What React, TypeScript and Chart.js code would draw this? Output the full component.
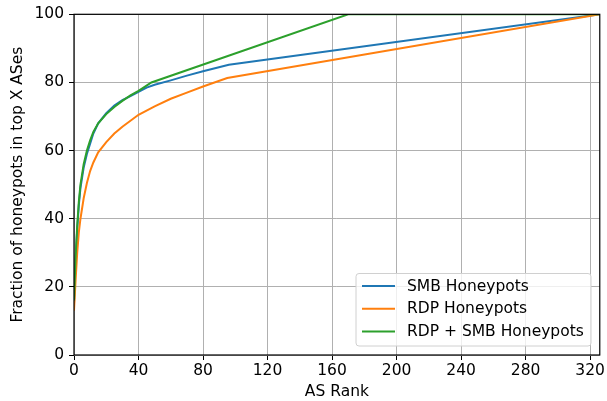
import React, { useEffect, useRef } from "react";
import { Chart, registerables } from "chart.js";

Chart.register(...registerables);

const smbX = [0, 1, 2, 3, 4, 6, 8, 10, 12, 15, 20, 25, 30, 35, 40, 45, 50, 60, 70, 80, 96, 326];
const smbY = [15, 28, 37, 44, 49, 55, 59, 62, 65, 68, 71, 73.2, 74.8, 76, 77.2, 78.5, 79.3, 80.6, 82, 83.3, 85.2, 100];

const rdpX = [0, 1, 2, 3, 4, 6, 8, 10, 12, 15, 20, 25, 30, 40, 50, 60, 70, 80, 95, 326];
const rdpY = [13, 22, 30, 36, 40, 46, 50.5, 54, 56.5, 59.5, 62.5, 65, 67, 70.5, 73, 75.2, 77, 78.8, 81.3, 100];

const bothX = [0, 1, 2, 3, 4, 6, 8, 10, 12, 15, 20, 25, 30, 35, 40, 48, 170, 326];
const bothY = [16, 29, 38, 45, 50, 56, 60, 63, 65.5, 68, 70.7, 72.8, 74.6, 76.2, 77.5, 80, 100, 100];

const seriesLabels = ["SMB Honeypots", "RDP Honeypots", "RDP + SMB Honeypots"];
const seriesColors = ["#1f77b4", "#ff7f0e", "#2ca02c"];
const xTicks = [0, 40, 80, 120, 160, 200, 240, 280, 320];
const yTicks = [0, 20, 40, 60, 80, 100];

const FONT = "'DejaVu Sans', sans-serif";
const FS = 15.5;

const toPts = (xs: number[], ys: number[]) => xs.map((x, i) => ({ x, y: ys[i] }));

const framePlugin = {
  id: "frame",
  afterDraw(chart: any) {
    const { ctx, chartArea: a } = chart;
    ctx.save();
    ctx.strokeStyle = "#000";
    ctx.lineWidth = 1.2;
    ctx.strokeRect(a.left, a.top, a.right - a.left, a.bottom - a.top);
    // legend
    const bx = 356, by = 273.5, bw = 235, bh = 72.5, r = 3;
    ctx.beginPath();
    ctx.moveTo(bx + r, by);
    ctx.lineTo(bx + bw - r, by);
    ctx.arcTo(bx + bw, by, bx + bw, by + r, r);
    ctx.lineTo(bx + bw, by + bh - r);
    ctx.arcTo(bx + bw, by + bh, bx + bw - r, by + bh, r);
    ctx.lineTo(bx + r, by + bh);
    ctx.arcTo(bx, by + bh, bx, by + bh - r, r);
    ctx.lineTo(bx, by + r);
    ctx.arcTo(bx, by, bx + r, by, r);
    ctx.closePath();
    ctx.fillStyle = "rgba(255,255,255,0.8)";
    ctx.fill();
    ctx.strokeStyle = "#d0d0d0";
    ctx.lineWidth = 1;
    ctx.stroke();
    ctx.font = `${FS}px ${FONT}`;
    ctx.textBaseline = "middle";
    ctx.textAlign = "left";
    chart.data.datasets.forEach((ds: any, i: number) => {
      const y = 286 + i * 22.8;
      ctx.strokeStyle = ds.borderColor;
      ctx.lineWidth = 2;
      ctx.beginPath();
      ctx.moveTo(362, y);
      ctx.lineTo(395, y);
      ctx.stroke();
      ctx.fillStyle = "#000";
      ctx.fillText(ds.label, 407, y + 0.5);
    });
    ctx.restore();
  },
};

export default function App() {
  const ref = useRef<HTMLCanvasElement>(null);
  useEffect(() => {
    document.body.style.margin = "0";
    const datasets = [
      { data: toPts(smbX, smbY), order: 3 },
      { data: toPts(rdpX, rdpY), order: 2 },
      { data: toPts(bothX, bothY), order: 1 },
    ].map((d, i) => ({
      ...d,
      label: seriesLabels[i],
      borderColor: seriesColors[i],
      backgroundColor: seriesColors[i],
      borderWidth: 2,
      pointRadius: 0,
      fill: false,
      tension: 0,
    }));
    const chart = new Chart(ref.current!, {
      type: "line",
      data: { datasets },
      options: {
        animation: false,
        responsive: false,
        layout: { padding: { top: 14, right: 6, left: 0, bottom: 0 } },
        plugins: { legend: { display: false }, tooltip: { enabled: false } },
        scales: {
          x: {
            type: "linear",
            min: 0,
            max: 326,
            afterBuildTicks: (s: any) => {
              s.ticks = xTicks.map((v) => ({ value: v }));
            },
            afterFit: (s: any) => {
              s.height = 46;
            },
            grid: { color: "#b0b0b0", lineWidth: 1, tickLength: 5, tickColor: "#000" },
            border: { display: false },
            ticks: { color: "#000", font: { family: FONT, size: FS }, padding: 2, maxRotation: 0 },
            title: { display: true, text: "AS Rank", color: "#000", font: { family: FONT, size: FS }, padding: 0 },
          },
          y: {
            type: "linear",
            min: 0,
            max: 100,
            afterBuildTicks: (s: any) => {
              s.ticks = yTicks.map((v) => ({ value: v }));
            },
            afterFit: (s: any) => {
              s.width = 74;
            },
            grid: { color: "#b0b0b0", lineWidth: 1, tickLength: 5, tickColor: "#000" },
            border: { display: false },
            ticks: { color: "#000", font: { family: FONT, size: FS }, padding: 5 },
            title: {
              display: true,
              text: "Fraction of honeypots in top X ASes",
              color: "#000",
              font: { family: FONT, size: FS },
              padding: 9,
            },
          },
        },
      },
      plugins: [framePlugin],
    });
    return () => chart.destroy();
  }, []);
  return <canvas ref={ref} width={607} height={401} style={{ display: "block" }} />;
}
